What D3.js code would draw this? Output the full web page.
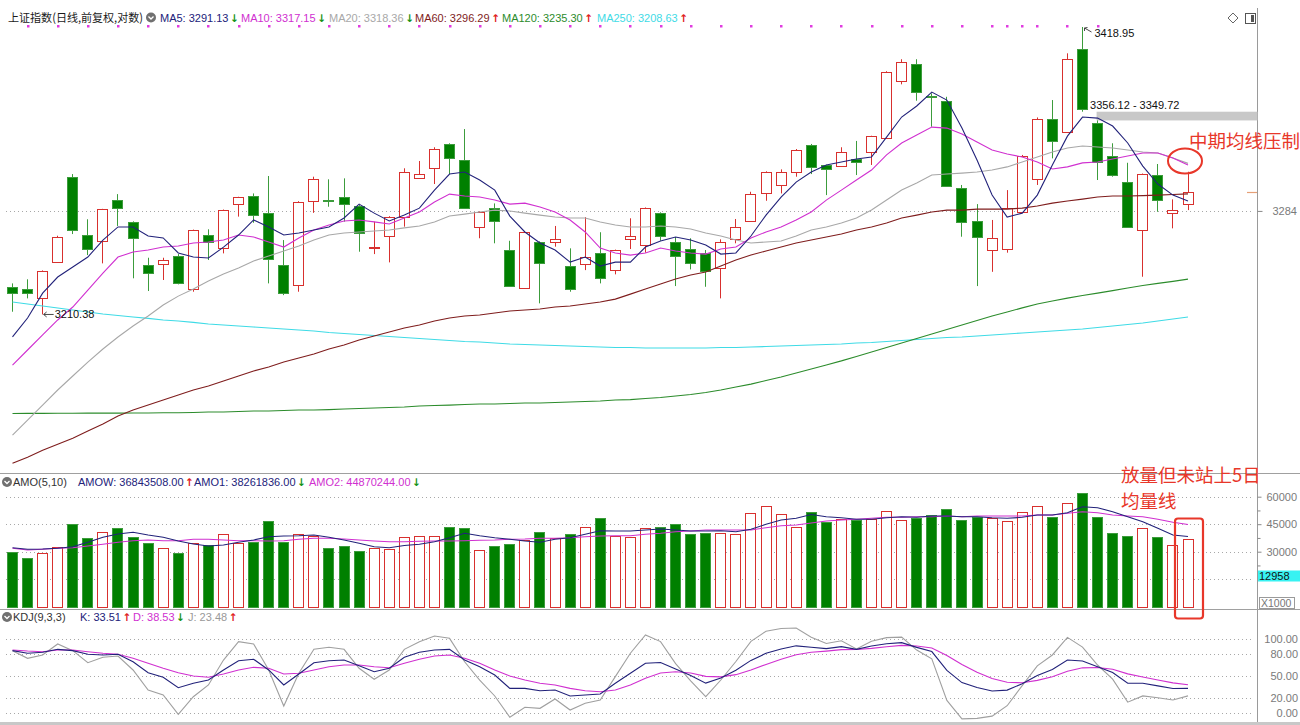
<!DOCTYPE html>
<html lang="zh-CN">
<head>
<meta charset="utf-8">
<script src="https://cdn.jsdelivr.net/npm/d3@7"></script>
<style>
html,body{margin:0;padding:0;background:#fff;}
svg{display:block;}
</style>
</head>
<body>
<svg id="chart" width="1300" height="725"></svg>
<script>
// ---------------- DATA ----------------
const open = [3229.9,3228.1,3222.1,3247.7,3308.7,3266.7,3262.6,3291.8,3276.3,3245.3,
 3245.8,3251.7,3228.1,3266.7,3257.2,3288.9,3294.7,3282.2,3245.3,3231.1,
 3291.3,3292.2,3293.7,3287.5,3257.6,3266.0,3279.5,3307.9,3314.8,3332.3,
 3320.8,3272.3,3285.8,3256.0,3229.0,3261.9,3261.5,3244.6,3245.8,3254.1,
 3241.7,3263.6,3259.6,3282.6,3261.9,3256.7,3254.1,3242.9,3263.6,3277.0,
 3296.6,3302.7,3312.3,3331.7,3317.2,3316.4,3321.3,3326.4,3337.0,3378.8,
 3391.2,3367.4,3364.0,3300.7,3277.0,3256.0,3256.5,3283.4,3306.8,3350.5,
 3340.9,3402.5,3347.5,3324.0,3305.1,3270.3,3309.9,3282.2,3288.9];
const high = [3232.3,3235.2,3241.5,3266.2,3310.6,3278.0,3285.5,3296.1,3276.5,3250.5,
 3250.5,3253.1,3270.6,3270.8,3285.0,3294.2,3296.6,3309.2,3263.1,3291.0,
 3308.7,3306.8,3307.5,3288.2,3276.3,3280.2,3314.8,3320.1,3330.1,3333.0,
 3343.4,3283.7,3289.4,3262.6,3269.6,3262.2,3273.2,3257.2,3279.5,3268.7,
 3256.3,3278.7,3286.5,3283.0,3265.3,3264.4,3256.0,3263.6,3278.2,3297.8,
 3312.6,3314.0,3328.8,3332.5,3317.4,3330.1,3334.7,3338.5,3386.0,3394.9,
 3394.9,3369.6,3367.1,3302.7,3288.9,3277.5,3299.0,3324.5,3351.9,3364.7,
 3399.3,3418.95,3349.72,3333.0,3318.8,3311.0,3317.9,3292.3,3312.3];
const low = [3212.3,3221.7,3210.38,3247.2,3267.4,3252.4,3246.5,3273.2,3235.9,3226.9,
 3234.7,3231.6,3226.4,3248.9,3253.6,3279.9,3275.5,3232.3,3224.0,3226.4,
 3282.6,3287.0,3276.3,3254.8,3253.1,3247.2,3272.7,3307.7,3303.4,3310.6,
 3285.5,3264.4,3260.8,3229.9,3228.5,3218.2,3258.4,3226.4,3241.7,3232.3,
 3238.7,3256.7,3254.1,3262.6,3230.4,3242.2,3229.9,3221.7,3260.8,3276.7,
 3291.3,3296.6,3308.7,3310.6,3295.4,3316.0,3309.9,3317.2,3336.5,3376.3,
 3364.2,3345.1,3301.8,3265.5,3230.4,3240.5,3254.1,3283.0,3302.7,3322.0,
 3340.5,3356.12,3306.3,3308.7,3272.5,3237.0,3283.4,3271.5,3284.6];
const close = [3225.2,3225.2,3241.0,3265.1,3270.3,3256.7,3285.1,3286.2,3264.4,3239.4,
 3248.8,3232.7,3270.3,3261.5,3284.6,3293.7,3281.0,3249.4,3225.2,3290.6,
 3306.8,3291.4,3288.7,3267.9,3258.1,3279.9,3312.3,3310.6,3328.6,3322.5,
 3285.8,3283.4,3276.8,3230.6,3269.1,3246.5,3263.8,3228.1,3251.2,3236.3,
 3256.0,3266.0,3286.2,3266.2,3251.9,3246.5,3241.2,3261.5,3272.7,3296.1,
 3312.3,3312.3,3328.1,3316.0,3314.0,3326.9,3319.1,3338.2,3385.6,3393.1,
 3370.8,3366.9,3302.2,3276.3,3265.5,3264.4,3285.8,3324.0,3350.5,3334.9,
 3394.9,3358.1,3319.6,3309.9,3272.7,3310.6,3291.8,3284.6,3297.8];

const ma5 = [3194.6,3207.9,3225.4,3236.8,3243.9,3251.0,3263.1,3272.5,3272.5,3266.0,
 3264.6,3253.9,3251.0,3250.3,3258.1,3266.7,3277.5,3272.5,3266.7,3268.2,
 3270.3,3272.5,3278.9,3288.9,3282.4,3276.8,3281.0,3286.0,3299.0,3310.6,
 3312.1,3306.3,3299.0,3280.3,3268.9,3261.0,3256.0,3247.4,3251.0,3244.6,
 3247.4,3247.4,3258.1,3262.4,3265.3,3263.1,3259.6,3253.1,3253.9,3266.0,
 3281.0,3294.0,3304.8,3312.1,3317.2,3319.4,3321.5,3323.0,3337.5,3352.2,
 3360.3,3370.6,3364.7,3344.1,3320.8,3295.4,3279.6,3282.4,3295.4,3317.2,
 3338.2,3352.2,3351.4,3345.6,3333.2,3316.4,3303.4,3295.4,3291.13];
const ma10 = [3175.0,3185.5,3196.0,3206.5,3215.6,3227.6,3239.6,3251.0,3254.6,3256.0,
 3258.1,3258.9,3261.0,3261.7,3263.1,3266.7,3265.3,3261.7,3258.1,3264.6,
 3270.3,3273.9,3276.8,3277.5,3276.1,3274.6,3278.9,3283.2,3290.4,3296.1,
 3294.7,3294.0,3291.8,3288.9,3289.6,3286.8,3283.2,3277.5,3268.9,3257.4,
 3253.9,3252.4,3253.9,3257.4,3255.3,3253.9,3253.1,3256.7,3258.1,3264.6,
 3268.9,3272.5,3277.5,3283.2,3291.8,3299.0,3306.3,3313.5,3324.5,3333.2,
 3339.0,3344.8,3344.1,3339.7,3333.9,3328.1,3325.2,3323.0,3319.4,3314.3,
 3315.8,3318.7,3319.4,3321.5,3323.7,3325.9,3325.9,3322.3,3317.15];
const ma20 = [3126.7,3137.0,3147.3,3157.7,3167.4,3177.1,3186.2,3194.6,3202.3,3209.3,
 3217.0,3223.3,3228.3,3234.0,3238.9,3243.2,3248.2,3251.7,3255.3,3258.9,
 3263.1,3266.7,3268.2,3268.9,3269.6,3270.3,3271.8,3273.2,3276.1,3280.3,
 3281.7,3283.2,3284.6,3283.9,3282.4,3281.0,3279.6,3278.9,3278.9,3276.1,
 3273.9,3272.5,3272.5,3273.2,3272.5,3271.0,3268.2,3266.0,3263.1,3261.0,
 3261.7,3262.4,3266.0,3270.3,3272.5,3275.3,3278.9,3284.6,3291.8,3299.0,
 3304.1,3309.9,3310.6,3311.3,3312.1,3313.5,3315.8,3319.4,3323.0,3326.6,
 3329.6,3331.0,3330.3,3329.6,3328.1,3326.6,3325.9,3322.3,3318.36];
const ma60 = [3107.5,3111.6,3116.4,3120.5,3124.6,3129.5,3134.3,3139.8,3143.9,3147.3,
 3150.8,3154.3,3157.7,3160.5,3163.9,3167.4,3170.9,3173.6,3177.1,3179.9,
 3182.7,3186.2,3189.0,3192.5,3195.3,3198.1,3200.9,3203.0,3205.8,3207.9,
 3209.3,3210.0,3211.4,3212.8,3213.5,3214.2,3215.6,3216.3,3217.7,3219.1,
 3221.2,3224.7,3228.3,3231.8,3235.4,3238.2,3240.3,3244.6,3248.9,3252.4,
 3255.3,3258.1,3261.0,3263.1,3265.3,3267.4,3270.3,3272.5,3275.3,3278.9,
 3281.0,3283.2,3284.6,3284.6,3285.3,3285.3,3285.3,3286.0,3287.5,3289.6,
 3291.1,3292.5,3294.0,3294.7,3294.7,3295.0,3295.4,3295.8,3296.29];
const ma120 = [3141.5,3141.6,3141.6,3141.7,3141.7,3141.8,3141.8,3141.8,3141.9,3141.9,
 3142.0,3142.0,3142.2,3142.5,3142.5,3142.9,3143.2,3143.2,3143.6,3143.9,
 3143.9,3144.2,3144.6,3144.9,3145.3,3145.6,3146.0,3146.7,3147.0,3147.3,
 3147.7,3148.0,3148.0,3148.4,3148.7,3148.7,3149.1,3149.4,3149.8,3150.1,
 3150.8,3151.1,3151.8,3152.5,3153.6,3154.6,3156.0,3157.7,3159.8,3161.8,
 3164.3,3166.7,3169.5,3172.3,3175.1,3177.9,3181.0,3184.1,3187.2,3190.4,
 3193.5,3196.7,3199.8,3203.0,3206.2,3209.3,3212.1,3215.0,3217.7,3219.8,
 3221.9,3223.7,3225.4,3227.2,3229.0,3230.8,3232.3,3233.7,3235.30];
const ma250 = [3219.1,3217.7,3216.3,3214.9,3213.5,3212.1,3210.7,3209.7,3208.6,3207.6,
 3206.5,3205.8,3204.8,3203.7,3203.0,3202.3,3201.6,3200.9,3200.2,3199.5,
 3198.8,3197.7,3197.0,3196.3,3195.6,3194.9,3194.2,3193.5,3192.8,3192.1,
 3191.4,3191.1,3190.4,3189.7,3189.3,3189.0,3188.6,3188.3,3187.9,3187.6,
 3187.2,3187.2,3186.9,3186.9,3186.9,3186.9,3186.9,3187.2,3187.2,3187.6,
 3187.9,3188.3,3188.6,3189.0,3189.3,3189.7,3190.4,3190.7,3191.4,3192.1,
 3192.8,3193.5,3194.2,3194.6,3195.3,3196.0,3196.7,3197.4,3198.1,3198.8,
 3199.5,3200.2,3201.2,3202.3,3203.3,3204.4,3205.8,3207.2,3208.63];

// turnover (x1000)
const amo = [30000,26727,29455,32727,45109,37309,40909,42764,37855,34909,
 31855,29127,34582,33655,39491,34909,35455,46745,35455,39491,
 38727,31855,33273,30382,32182,31473,38182,38727,38727,43309,
 42764,30764,32945,34036,36382,40745,37636,39491,43309,48218,
 38564,38182,42764,43309,45109,39655,40200,40036,39491,50945,
 55091,50400,43309,51491,46364,47673,47291,47673,52364,47291,
 48218,50018,53127,47291,48764,48218,46745,51491,54927,49091,
 56400,61855,49091,40364,38727,43091,38182,33655,36843.508];
const amo1 = [32182,31309,31473,31855,32727,35127,37855,39655,40582,39109,
 37855,35836,34200,33109,33655,35127,36382,38182,38564,38727,
 39109,37855,36382,34582,32727,32182,33382,34036,35455,37636,
 40036,38727,37636,36764,35836,35127,36764,37636,39491,41455,
 41291,41291,41836,42382,41836,41291,41291,41455,40909,42218,
 44945,47291,48218,50291,49091,48545,47673,47673,48545,49091,
 48764,49473,49473,49091,49091,48545,48218,48764,50018,50018,
 51273,54545,54000,51818,49091,46364,42764,39109,38261.836];
const amo2 = [31855,30927,31309,31855,32182,33109,34036,35127,36000,36382,
 36000,36000,36764,36764,36382,36000,36000,35836,36000,36764,
 37309,37309,36927,36382,35836,35455,35455,35673,35836,35836,
 36000,36218,36382,36764,36927,37309,37309,37636,38182,38564,
 38727,38727,39491,40036,40909,41291,41836,41836,41836,41836,
 43091,44182,44564,45655,46745,47291,47673,48218,48764,48764,
 49091,49091,49473,49091,49473,49473,49473,49473,50018,50018,
 50945,51818,51273,50018,49473,49091,47673,46036,44870.244];

const kVal = [84.3,80.8,82.1,86.1,84.3,79.4,78.5,79.4,69.4,54.6,
 48.5,34.5,40.4,44.8,58.3,70.8,72.7,58.3,38.1,52.9,
 68.1,70.8,71.7,64.1,56.0,60.6,75.4,82.1,85.2,86.1,
 71.7,62.7,51.5,33.6,33.6,30.4,31.4,23.3,24.6,26.0,
 40.4,53.8,67.3,68.3,59.6,50.8,40.6,47.6,57.9,71.2,
 80.7,86.5,90.8,88.9,87.1,89.7,86.1,90.6,93.6,95.1,
 88.7,83.1,57.7,41.3,34.6,30.0,31.2,39.8,50.8,58.9,
 71.8,70.5,62.8,54.9,40.4,40.4,36.9,33.3,33.51];
const dVal = [85.2,83.8,82.9,85.2,85.2,82.9,80.8,79.4,74.0,67.3,
 60.6,54.6,50.2,48.5,52.9,58.3,61.9,60.6,52.9,53.8,
 58.3,62.7,65.0,65.0,62.7,61.4,67.3,72.7,77.1,78.5,
 74.0,67.3,58.3,50.2,44.8,40.4,38.1,33.6,30.4,29.1,
 31.4,38.1,47.1,54.2,56.0,54.3,49.7,49.0,52.0,58.4,
 65.8,72.7,78.8,82.1,83.7,85.7,85.8,87.4,89.5,91.4,
 90.5,88.0,77.9,65.7,55.3,46.9,41.7,41.1,44.3,49.1,
 56.6,61.2,61.7,59.4,53.1,48.9,44.9,41.0,38.53];
const jVal = [84.3,74.0,78.5,93.3,84.3,68.1,75.4,77.1,58.3,31.4,
 24.6,-1.3,22.3,38.1,71.7,96.4,93.3,58.3,9.8,53.8,
 86.1,88.8,86.1,60.6,45.8,58.3,86.1,96.4,104.0,100.9,
 69.4,44.8,23.3,-5.4,8.1,6.7,19.2,4.4,13.5,17.9,
 49.3,80.8,105.4,96.5,66.8,43.8,22.4,44.8,69.7,96.8,
 110.5,114.1,114.8,102.5,93.9,97.7,86.7,97.0,101.8,102.5,
 85.1,73.3,17.3,-7.5,-6.8,-3.8,10.2,37.2,63.8,78.5,
 102.2,89.1,65.0,45.9,15.0,23.4,20.9,17.9,23.48];

// signal markers above the chart (bar indices)
const markerDays = [1,3,5,7,9,11,13,15,17,19,21,23,25,27,29,31,33,35,37,39,41,43,45,47,49,51,53,55,57,59,61,63,65,66,67,68,70,72];

// axis ticks
const priceTicks = [3284];
const volLabelTicks = [60000,45000,30000];
const volGridTicks = [60000,45000,30000,15000];
const volMinorTicks = [52500,37500,22500];
const kdjTicks = [100,80,50,20,0];
const gapZone = [3356.12, 3349.72];

// ---------------- DRAWING ----------------
const svg = d3.select("#chart");
const FONT = "'Liberation Sans', Arial, sans-serif";
const CJK = "'Noto Sans CJK SC', sans-serif";
const RED = "#d8302e", GREEN = "#008000", GREEN_EDGE = "#3c9c3c";
const C5="#22227a", C10="#d030d0", C20="#a8a8a8", C60="#7f1d1d", C120="#2c8c2c", C250="#3fdbe6";
const NOTE = "#e8372a";
const AX = 1257.5;
const f2 = d3.format(".2f");

const days = d3.range(close.length);
const last = days.length - 1;
const x = d3.scaleLinear().domain([0, last]).range([12.5, 1188]);
const yP = d3.scaleLog().domain([3210.38, 3418.95]).range([314.46, 27]);
const yV = d3.scaleLinear().domain([0, 60000]).range([606.7, 496.7]);
const yK = d3.scaleLinear().domain([0, 100]).range([713.3, 639]);

const defs = svg.append("defs");
function clip(id, y0, y1){ defs.append("clipPath").attr("id",id).append("rect").attr("x",0).attr("y",y0).attr("width",AX).attr("height",y1-y0); }
clip("cMain", 8, 473); clip("cVol", 488, 609); clip("cKdj", 624, 722);

// frame lines
svg.append("line").attr("x1",AX).attr("x2",AX).attr("y1",8).attr("y2",725).attr("stroke","#9a9a9a");
[473.5, 609.5].forEach(yy => svg.append("line").attr("x1",0).attr("x2",1300).attr("y1",yy).attr("y2",yy).attr("stroke","#a0a0a0"));
svg.append("rect").attr("x",0).attr("y",722).attr("width",1300).attr("height",3).attr("fill","#c8c8c8");

// dotted grid lines
function hgrid(yy){
  const yr = Math.round(yy)+0.5;
  svg.append("line").attr("x1",6).attr("x2",1252).attr("y1",yr).attr("y2",yr)
    .attr("stroke","#a8a8a8").attr("stroke-dasharray","1,3");
}
priceTicks.forEach(v=>hgrid(yP(v)));
volGridTicks.forEach(v=>hgrid(yV(v)));
kdjTicks.forEach(v=>hgrid(yK(v)));

// axes
function styleAxis(g){
  g.select(".domain").remove();
  g.selectAll("line").attr("stroke","#888");
  g.selectAll("text").attr("fill","#7a7a7a").attr("font-size",11).attr("font-family",FONT);
}
svg.append("g").attr("transform",`translate(${AX},0)`)
  .call(d3.axisRight(yP).tickValues(priceTicks).tickSize(5).tickPadding(10).tickFormat(d3.format("d")))
  .call(styleAxis);
svg.append("g").attr("transform",`translate(${AX},0)`)
  .call(d3.axisRight(yV).tickValues(volLabelTicks).tickSize(4).tickPadding(5).tickFormat(d3.format("d")))
  .call(styleAxis);
svg.append("g").attr("transform",`translate(${AX},0)`)
  .call(d3.axisRight(yV).tickValues(volMinorTicks).tickSize(3).tickFormat(""))
  .call(styleAxis);
svg.append("g").attr("transform",`translate(${AX},0)`)
  .call(d3.axisRight(yK).tickValues(kdjTicks).tickSize(0).tickFormat(d3.format(".2f")))
  .call(styleAxis)
  .call(g=>g.selectAll("text").attr("x",40.5).attr("text-anchor","end"));

// current price marker
svg.append("line").attr("x1",1247).attr("x2",1257).attr("y1",Math.round(yP(close[last]))+0.5).attr("y2",Math.round(yP(close[last]))+0.5)
  .attr("stroke","#e6a077").attr("stroke-width",1.2);

// gap band
const gy0 = yP(gapZone[0]), gy1 = yP(gapZone[1]);
svg.append("rect").attr("x",x(72)-1).attr("y",gy0).attr("width",AX-(x(72)-1)).attr("height",gy1-gy0).attr("fill","#c8c8c8");

// candles
const gC = svg.append("g").attr("clip-path","url(#cMain)");
gC.selectAll("g").data(days).join("g").each(function(i){
  const g = d3.select(this);
  const o=open[i], c=close[i], up = c>=o;
  const cx = Math.floor(x(i))+0.5;
  const yTop = Math.round(yP(Math.max(o,c)))+0.5;
  let yBot = Math.round(yP(Math.min(o,c)))+0.5;
  if (yBot - yTop < 1) yBot = yTop + 1;
  const yH = yP(high[i]), yL = yP(low[i]);
  if (up){
    if (yH < yTop) g.append("line").attr("x1",cx).attr("x2",cx).attr("y1",yH).attr("y2",yTop).attr("stroke",RED);
    if (yL > yBot) g.append("line").attr("x1",cx).attr("x2",cx).attr("y1",yBot).attr("y2",yL).attr("stroke",RED);
    g.append("rect").attr("x",cx-5).attr("y",yTop).attr("width",10).attr("height",yBot-yTop).attr("fill","#fff").attr("stroke",RED);
  } else {
    g.append("line").attr("x1",cx).attr("x2",cx).attr("y1",yH).attr("y2",yL).attr("stroke",GREEN_EDGE);
    g.append("rect").attr("x",cx-5).attr("y",yTop).attr("width",10).attr("height",yBot-yTop).attr("fill",GREEN).attr("stroke",GREEN_EDGE);
  }
});

// moving averages
const lineP = d3.line().x((d,i)=>x(i)).y(d=>yP(d));
const gL = svg.append("g").attr("clip-path","url(#cMain)");
[[ma250,C250],[ma120,C120],[ma60,C60],[ma20,C20],[ma10,C10],[ma5,C5]].forEach(([arr,col])=>{
  gL.append("path").datum(arr).attr("d",lineP).attr("fill","none").attr("stroke",col).attr("stroke-width",1.1);
});

// marker dots
svg.selectAll("rect.mk").data(markerDays).join("rect").attr("class","mk")
  .attr("x",d=>Math.round(x(d))-1).attr("y",25).attr("width",2.5).attr("height",2.5).attr("fill","#e03ce0");

// price annotations
(function(){
  const hx = x(71), hy = yP(high[71]);
  svg.append("path").attr("d",`M${hx+9},${hy+5} L${hx+2},${hy+1} M${hx+2},${hy+1} l0,3 M${hx+2},${hy+1} l3,-0.5`)
    .attr("stroke","#333").attr("fill","none").attr("stroke-width",0.9);
  svg.append("text").attr("x",hx+12).attr("y",hy+10).attr("font-size",11).attr("font-family",FONT).attr("fill","#111").text(f2(high[71]));
  const lx = x(2), ly = yP(low[2]);
  svg.append("path").attr("d",`M${lx+11},${ly} L${lx+1},${ly} M${lx+1},${ly} l3,-2.5 M${lx+1},${ly} l3,2.5`)
    .attr("stroke","#333").attr("fill","none").attr("stroke-width",0.9);
  svg.append("text").attr("x",lx+12).attr("y",ly+4).attr("font-size",11).attr("font-family",FONT).attr("fill","#111").text(f2(low[2]));
  svg.append("text").attr("x",x(72)-7.5).attr("y",gy0-2.5).attr("font-size",11).attr("font-family",FONT).attr("fill","#111")
    .text(`${f2(gapZone[0])} - ${f2(gapZone[1])}`);
})();

// volume bars
const gV = svg.append("g").attr("clip-path","url(#cVol)");
gV.selectAll("rect").data(days).join("rect")
  .attr("x",i=>Math.floor(x(i))+0.5-5)
  .attr("y",i=>Math.round(yV(amo[i]))+0.5)
  .attr("width",10)
  .attr("height",i=>Math.round(yV(0))-Math.round(yV(amo[i])))
  .attr("fill",i=>close[i]>=open[i]?"#fff":GREEN)
  .attr("stroke",i=>close[i]>=open[i]?RED:GREEN_EDGE);
const lineV = d3.line().x((d,i)=>x(i)).y(d=>yV(d));
gV.append("path").datum(amo2).attr("d",lineV).attr("fill","none").attr("stroke",C10).attr("stroke-width",1.1);
gV.append("path").datum(amo1).attr("d",lineV).attr("fill","none").attr("stroke",C5).attr("stroke-width",1.1);

// volume axis boxes
svg.append("rect").attr("x",1258).attr("y",570.5).attr("width",42).attr("height",11).attr("fill","#38f2f2");
svg.append("text").attr("x",1259).attr("y",580).attr("font-size",11).attr("font-family",FONT).attr("fill","#111").text("12958");
svg.append("rect").attr("x",1259.5).attr("y",597.5).attr("width",35).attr("height",11).attr("fill","#fff").attr("stroke","#9a9a9a");
svg.append("text").attr("x",1261).attr("y",607).attr("font-size",10.5).attr("font-family",FONT).attr("fill","#777").text("X1000");

// KDJ lines
const lineK = d3.line().x((d,i)=>x(i)).y(d=>yK(d));
const gK = svg.append("g").attr("clip-path","url(#cKdj)");
gK.append("path").datum(jVal).attr("d",lineK).attr("fill","none").attr("stroke","#a0a0a0").attr("stroke-width",1.1);
gK.append("path").datum(dVal).attr("d",lineK).attr("fill","none").attr("stroke",C10).attr("stroke-width",1.1);
gK.append("path").datum(kVal).attr("d",lineK).attr("fill","none").attr("stroke",C5).attr("stroke-width",1.1);

// ---------------- legends ----------------
function txt(xp, yp, s, col, size=11, fam=FONT){
  return svg.append("text").attr("x",xp).attr("y",yp).attr("fill",col).attr("font-size",size).attr("font-family",fam).text(s);
}
function arrow(xp, yp, up){ txt(xp, yp, up?"↑":"↓", up?"#e02020":"#169216", 10.5, "'DejaVu Sans', sans-serif").attr("font-weight","bold"); }
// text followed by its up/down arrow, placed right after the measured text
function item(xp, yp, s, col, up){
  const t = txt(xp, yp, s, col);
  const w = t.node().getComputedTextLength();
  arrow(xp + w + 1.5, yp, up);
}
function icon(cx, cy){
  svg.append("circle").attr("cx",cx).attr("cy",cy).attr("r",5).attr("fill","#707070");
  svg.append("path").attr("d",`M${cx-2.5},${cy-1} L${cx},${cy+1.5} L${cx+2.5},${cy-1}`).attr("stroke","#fff").attr("stroke-width",1.3).attr("fill","none");
}

// row 1
txt(8, 21.5, "上证指数(日线,前复权,对数)", "#1a1a1a", 11.5, CJK).attr("textLength",135).attr("lengthAdjust","spacingAndGlyphs");
icon(151, 17.5);
const maLeg = [["MA5",ma5,C5,160],["MA10",ma10,C10,241],["MA20",ma20,C20,329],
               ["MA60",ma60,C60,415],["MA120",ma120,C120,502],["MA250",ma250,C250,597]];
maLeg.forEach(([n,arr,col,tx])=> item(tx, 21.5, `${n}: ${f2(arr[last])}`, col, arr[last] >= arr[last-1]));

// top-right icons
svg.append("path").attr("d","M1233,13 L1238,18 L1233,23 L1228,18 Z").attr("fill","none").attr("stroke","#666");
svg.append("rect").attr("x",1245.5).attr("y",13.5).attr("width",10).attr("height",10).attr("fill","#fff").attr("stroke","#555");
svg.append("rect").attr("x",1251).attr("y",15).attr("width",3).attr("height",7).attr("fill","#555");

// row 2
icon(7, 482);
txt(13, 486, "AMO(5,10)", "#333");
item(78, 486, `AMOW: ${f2(amo[last]*1000)}`, C5, amo[last] >= amo[last-1]);
item(194, 486, `AMO1: ${f2(amo1[last]*1000)}`, C5, amo1[last] >= amo1[last-1]);
item(309, 486, `AMO2: ${f2(amo2[last]*1000)}`, C10, amo2[last] >= amo2[last-1]);

// row 3
icon(7, 617);
txt(13, 621, "KDJ(9,3,3)", "#333");
item(80, 621, `K: ${f2(kVal[last])}`, C5, kVal[last] >= kVal[last-1]);
item(133, 621, `D: ${f2(dVal[last])}`, C10, dVal[last] >= dVal[last-1]);
item(188, 621, `J: ${f2(jVal[last])}`, "#999", jVal[last] >= jVal[last-1]);

// ---------------- notes ----------------
svg.append("ellipse").attr("cx",1185).attr("cy",161).attr("rx",17).attr("ry",12.5)
  .attr("fill","none").attr("stroke",NOTE).attr("stroke-width",2);
txt(1189, 147.5, "中期均线压制", NOTE, 18.5, CJK);
svg.append("rect").attr("x",1175).attr("y",518.5).attr("width",28).attr("height",100).attr("rx",3)
  .attr("fill","none").attr("stroke",NOTE).attr("stroke-width",2.2);
txt(1121, 482, "放量但未站上5日", NOTE, 18.5, CJK);
txt(1121, 508, "均量线", NOTE, 18.5, CJK);
</script>
</body>
</html>
